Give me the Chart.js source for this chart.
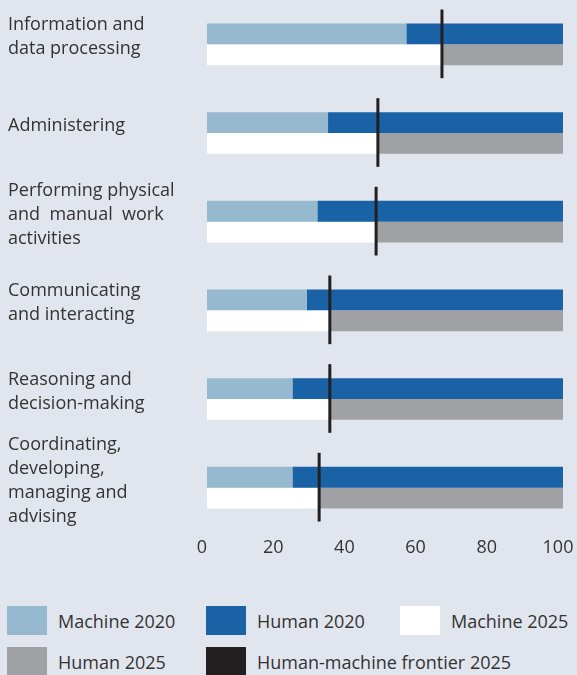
<!DOCTYPE html>
<html>
<head>
<meta charset="utf-8">
<script src="https://cdn.jsdelivr.net/npm/chart.js@4/dist/chart.umd.min.js"></script>
<style>
  html, body { margin: 0; padding: 0; background: #e1e6ee; }
  body { width: 577px; height: 675px; position: relative; overflow: hidden;
         font-family: 'Open Sans', sans-serif; color: #333333; }
  #wrap { position: absolute; left: 0; top: 0; width: 577px; height: 560px; }
  #legend { position: absolute; left: 0; top: 606px; width: 577px; height: 70px; }
  .item { position: absolute; display: flex; align-items: center; height: 29px;
          font-size: 18px; white-space: nowrap; }
  .sw { width: 40px; height: 29px; margin-right: 11px; flex: none; }
</style>
</head>
<body>
<div id="wrap"><canvas id="c"></canvas></div>
<div id="legend"></div>
<script>
// Work activity groups (multi-line labels)
const categories = [
  ['Information and', 'data processing'],
  ['Administering'],
  ['Performing physical', 'and  manual  work', 'activities'],
  ['Communicating', 'and interacting'],
  ['Reasoning and', 'decision-making'],
  ['Coordinating,', 'developing,', 'managing and', 'advising']
];

// Share of task hours (%)
const machine2020 = [56, 34, 31, 28, 24, 24];
const human2020   = [44, 66, 69, 72, 76, 76];
const machine2025 = [66, 48, 47.5, 34.5, 34.5, 31.5];
const human2025   = [34, 52, 52.5, 65.5, 65.5, 68.5];
const frontier2025 = [66, 48, 47.5, 34.5, 34.5, 31.5];

const xTicks = [0, 20, 40, 60, 80, 100];

const FONT = "'Open Sans', sans-serif";
const TEXT = '#333333';
const FRONTIER_COLOR = '#231f20';

// Vertical marker for the 2025 human-machine frontier, spanning both bars
const frontierPlugin = {
  id: 'frontier',
  afterDatasetsDraw(chart) {
    const { ctx } = chart;
    const x = chart.scales.x;
    const upper = chart.getDatasetMeta(0).data;
    const lower = chart.getDatasetMeta(2).data;
    ctx.save();
    ctx.strokeStyle = FRONTIER_COLOR;
    ctx.lineWidth = 3;
    frontier2025.forEach((v, i) => {
      const px = x.getPixelForValue(v);
      const y0 = upper[i].y - upper[i].height / 2 - 14;
      const y1 = lower[i].y + lower[i].height / 2 + 13;
      ctx.beginPath();
      ctx.moveTo(px, y0);
      ctx.lineTo(px, y1);
      ctx.stroke();
    });
    ctx.restore();
  }
};

const chart = new Chart(document.getElementById('c'), {
  type: 'bar',
  data: {
    labels: categories,
    datasets: [
      { label: 'Machine 2020', data: machine2020, backgroundColor: '#96b9d0', stack: 's2020' },
      { label: 'Human 2020',   data: human2020,   backgroundColor: '#1a62a6', stack: 's2020' },
      { label: 'Machine 2025', data: machine2025, backgroundColor: '#ffffff', stack: 's2025' },
      { label: 'Human 2025',   data: human2025,   backgroundColor: '#a0a1a5', stack: 's2025' }
    ]
  },
  options: {
    indexAxis: 'y',
    responsive: true,
    maintainAspectRatio: false,
    animation: false,
    layout: { padding: { left: 8, right: 14, top: 0, bottom: 0 } },
    datasets: { bar: { barPercentage: 1, categoryPercentage: 0.47, borderWidth: 0 } },
    plugins: { legend: { display: false }, tooltip: { enabled: false } },
    scales: {
      x: {
        stacked: true,
        min: 0,
        max: 100,
        grid: { display: false, drawTicks: false },
        border: { display: false },
        ticks: { font: { family: FONT, size: 18 }, color: TEXT, padding: 5,
                 labelOffset: -5, maxRotation: 0, autoSkip: false },
        afterBuildTicks(s) { s.ticks = xTicks.map(v => ({ value: v })); },
        afterFit(s) { s.paddingLeft = 0; s.paddingRight = 0; s.height = 28; }
      },
      y: {
        grid: { display: false, drawTicks: false },
        border: { display: false },
        ticks: { font: { family: FONT, size: 18, lineHeight: 1.33 }, color: TEXT,
                 crossAlign: 'far', labelOffset: -7, autoSkip: false, padding: 0 },
        afterFit(s) { s.width = 199; s.paddingTop = 0; s.paddingBottom = 0; }
      }
    }
  },
  plugins: [frontierPlugin]
});

// HTML legend laid out on a three-column grid
const legendItems = chart.data.datasets.map(d => ({ label: d.label, color: d.backgroundColor }))
  .concat([{ label: 'Human-machine frontier 2025', color: FRONTIER_COLOR }]);
const colLeft = [7, 206, 400];
const rowTop = [0, 41];
const legend = document.getElementById('legend');
legendItems.forEach((it, i) => {
  const el = document.createElement('div');
  el.className = 'item';
  el.style.left = colLeft[i % 3] + 'px';
  el.style.top = rowTop[Math.floor(i / 3)] + 'px';
  const sw = document.createElement('span');
  sw.className = 'sw';
  sw.style.background = it.color;
  const tx = document.createElement('span');
  tx.textContent = it.label;
  el.appendChild(sw);
  el.appendChild(tx);
  legend.appendChild(el);
});
</script>
</body>
</html>
